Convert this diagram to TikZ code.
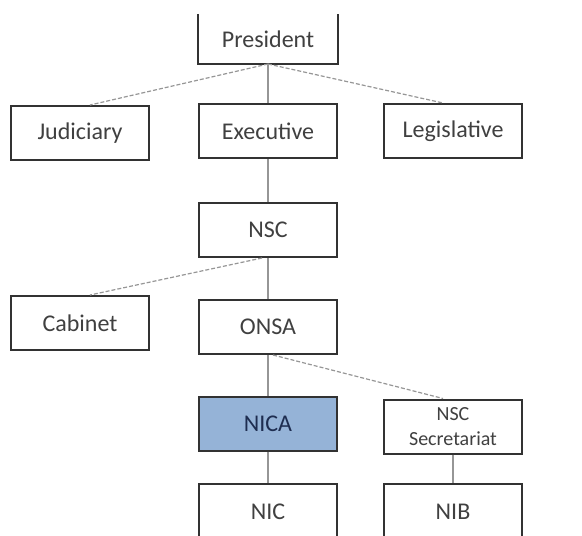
\documentclass[tikz,border=0pt]{standalone}
\usepackage{fontspec}
\setmainfont{Carlito}
\definecolor{orgframe}{RGB}{50,50,50}
\definecolor{orglink}{RGB}{150,150,150}
\definecolor{nicablue}{RGB}{149,179,215}
\definecolor{nicatext}{RGB}{30,45,80}
\usetikzlibrary{positioning}

\begin{document}
\begin{tikzpicture}[
    x=0.5pt, y=-0.5pt,
    unit/.style={draw=orgframe, line width=1pt, fill=white,
                 minimum width=69pt, minimum height=27pt, inner sep=0pt,
                 font=\fontsize{12}{13}\selectfont, text=black!75},
    topunit/.style={unit, draw=none, minimum height=24pt},
    link/.style={orglink, line width=0.6pt},
    sidelink/.style={link, dash pattern=on 2pt off 1pt}
  ]
  \useasboundingbox (0,0) rectangle (582,535);

  %% Top level
  \node[topunit] (pres) at (268,39) {President};
  \draw[orgframe, line width=1pt] (pres.north west) -- (pres.south west)
    -- (pres.south east) -- (pres.north east);

  %% Branches
  \node[unit] (jud)  at (80,133)  {Judiciary};
  \node[unit] (exec) at (268,131) {Executive};
  \node[unit] (leg)  at (453,131) {Legislative};

  %% Security council
  \node[unit] (nsc)  at (268,230) {NSC};
  \node[unit] (cab)  at (80,323)  {Cabinet};
  \node[unit] (onsa) at (268,327) {ONSA};

  %% Agencies
  \node[unit, fill=nicablue, text=nicatext] (nica) at (268,423.5) {NICA};
  \node[unit, align=center, font=\fontsize{10}{12.5}\selectfont] (sec)
    at (453,426.5) {NSC\\Secretariat};
  \node[unit, minimum height=28pt] (nic) at (268,512) {NIC};
  \node[unit, minimum height=28pt] (nib) at (453,512) {NIB};

  %% Links
  \draw[link] (pres) -- (exec);
  \draw[link] (exec) -- (nsc);
  \draw[link] (nsc) -- (onsa);
  \draw[link] (onsa) -- (nica);
  \draw[link] (nica) -- (nic);
  \draw[link] (sec) -- (nib);
  \draw[sidelink] (pres.south) -- ([xshift=5pt]jud.north);
  \draw[sidelink] (pres.south) -- ([xshift=-5pt]leg.north);
  \draw[sidelink] ([xshift=-3pt]nsc.south) -- ([xshift=5pt]cab.north);
  \draw[sidelink] ([xshift=2.5pt]onsa.south) -- ([xshift=-5pt]sec.north);

\end{tikzpicture}
\end{document}
